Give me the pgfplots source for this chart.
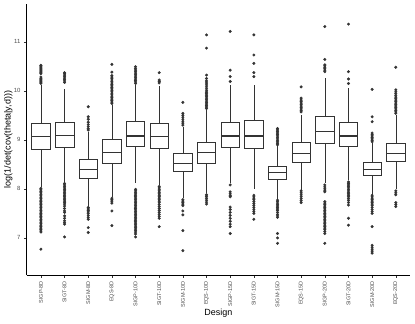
\documentclass[border=0pt]{standalone}
\usepackage{fontspec}
\setmainfont{Liberation Sans}
\usepackage{pgfplots}
\pgfplotsset{compat=1.18}
\usepgfplotslibrary{statistics}
\definecolor{g20}{RGB}{51,51,51}
\definecolor{g30}{RGB}{77,77,77}
\begin{document}
\begin{tikzpicture}
\begin{axis}[
  name=ax, scale only axis, width=383bp, height=271bp,
  xmin=-0.6, xmax=15.6, ymin=6.24, ymax=11.77,
  axis lines*=left, axis line style={black, line width=0.6pt},
  xtick={0,...,15},
  xticklabels={SIGP-8D,SIGT-8D,SIGM-8D,EQS-8D,SIGP-10D,SIGT-10D,SIGM-10D,EQS-10D,
    SIGP-15D,SIGT-15D,SIGM-15D,EQS-15D,SIGP-20D,SIGT-20D,SIGM-20D,EQS-20D},
  x tick label style={rotate=90, anchor=east, font=\fontsize{5.5}{6}\selectfont, text=g30},
  ytick={7,8,9,10,11},
  y tick label style={font=\fontsize{6}{7}\selectfont, text=g30},
  /pgf/number format/assume math mode=true,
  tick style={g20, line width=0.5pt}, tick align=outside, major tick length=2.75pt,
  xlabel={Design}, ylabel={log(1/det(cov(theta|y,d)))},
  label style={font=\fontsize{9}{10}\selectfont},
  xlabel style={at={(rel axis cs:0.5,0)}, anchor=center, yshift=-38bp},
  ylabel style={at={([xshift=-18.5bp]rel axis cs:0,0.5)}, anchor=center},
  boxplot/draw direction=y, boxplot/box extend=0.78, boxplot/whisker extend=0,
  boxplot/every median/.style={line width=1.2pt},
  box/.style={g20, line width=0.6pt, fill=white, solid},
  out/.style={only marks, mark=*, mark size=1.3pt, mark options={draw=g20, fill=g20}},
]
% boxes: lower whisker, Q1, median, Q3, upper whisker
\addplot[box, boxplot prepared={draw position=0, lower whisker=8.04, lower quartile=8.81, median=9.06, upper quartile=9.34, upper whisker=10.12}] coordinates {};
\addplot[box, boxplot prepared={draw position=1, lower whisker=8.15, lower quartile=8.85, median=9.09, upper quartile=9.36, upper whisker=10.03}] coordinates {};
\addplot[box, boxplot prepared={draw position=2, lower whisker=7.64, lower quartile=8.21, median=8.40, upper quartile=8.61, upper whisker=9.16}] coordinates {};
\addplot[box, boxplot prepared={draw position=3, lower whisker=7.84, lower quartile=8.53, median=8.745, upper quartile=9.01, upper whisker=9.72}] coordinates {};
\addplot[box, boxplot prepared={draw position=4, lower whisker=8.11, lower quartile=8.87, median=9.08, upper quartile=9.37, upper whisker=10.12}] coordinates {};
\addplot[box, boxplot prepared={draw position=5, lower whisker=8.08, lower quartile=8.83, median=9.07, upper quartile=9.34, upper whisker=10.10}] coordinates {};
\addplot[box, boxplot prepared={draw position=6, lower whisker=7.81, lower quartile=8.35, median=8.52, upper quartile=8.72, upper whisker=9.27}] coordinates {};
\addplot[box, boxplot prepared={draw position=7, lower whisker=7.91, lower quartile=8.53, median=8.745, upper quartile=8.96, upper whisker=9.61}] coordinates {};
\addplot[box, boxplot prepared={draw position=8, lower whisker=8.12, lower quartile=8.85, median=9.08, upper quartile=9.36, upper whisker=10.12}] coordinates {};
\addplot[box, boxplot prepared={draw position=9, lower whisker=7.99, lower quartile=8.83, median=9.08, upper quartile=9.40, upper whisker=10.12}] coordinates {};
\addplot[box, boxplot prepared={draw position=10, lower whisker=7.79, lower quartile=8.19, median=8.33, upper quartile=8.47, upper whisker=8.89}] coordinates {};
\addplot[box, boxplot prepared={draw position=11, lower whisker=7.98, lower quartile=8.54, median=8.72, upper quartile=8.94, upper whisker=9.51}] coordinates {};
\addplot[box, boxplot prepared={draw position=12, lower whisker=8.12, lower quartile=8.93, median=9.165, upper quartile=9.47, upper whisker=10.255}] coordinates {};
\addplot[box, boxplot prepared={draw position=13, lower whisker=8.19, lower quartile=8.87, median=9.08, upper quartile=9.36, upper whisker=10.05}] coordinates {};
\addplot[box, boxplot prepared={draw position=14, lower whisker=7.88, lower quartile=8.28, median=8.40, upper quartile=8.54, upper whisker=8.93}] coordinates {};
\addplot[box, boxplot prepared={draw position=15, lower whisker=7.99, lower quartile=8.56, median=8.72, upper quartile=8.93, upper whisker=9.51}] coordinates {};
% outliers
\addplot[out] coordinates {
 (0,10.15)(0,10.17)(0,10.19)(0,10.21)(0,10.23)(0,10.25)(0,10.28)(0,10.35)(0,10.37)(0,10.39)(0,10.41)(0,10.43)(0,10.45)(0,10.47)(0,10.49)(0,10.51)(0,10.52)
 (0,8.01)(0,7.98)(0,7.95)(0,7.92)(0,7.89)(0,7.86)(0,7.83)(0,7.80)(0,7.77)(0,7.74)(0,7.71)(0,7.68)(0,7.65)(0,7.62)(0,7.59)(0,7.56)(0,7.53)(0,7.50)(0,7.47)(0,7.44)(0,7.41)(0,7.38)(0,7.35)(0,7.32)(0,7.29)(0,7.26)(0,7.23)(0,7.20)(0,7.17)(0,7.14)(0,7.12)(0,6.77)
 (1,10.17)(1,10.20)(1,10.23)(1,10.26)(1,10.29)(1,10.32)(1,10.35)(1,10.37)
 (1,8.11)(1,8.08)(1,8.05)(1,8.02)(1,7.99)(1,7.96)(1,7.93)(1,7.90)(1,7.87)(1,7.84)(1,7.81)(1,7.78)(1,7.75)(1,7.72)(1,7.69)(1,7.65)(1,7.60)(1,7.55)(1,7.52)(1,7.45)(1,7.40)(1,7.35)(1,7.31)(1,7.28)(1,7.02)
 (2,9.20)(2,9.23)(2,9.27)(2,9.31)(2,9.36)(2,9.42)(2,9.47)(2,9.675)
 (2,7.62)(2,7.59)(2,7.56)(2,7.53)(2,7.50)(2,7.46)(2,7.42)(2,7.38)(2,7.21)(2,7.11)
 (3,9.74)(3,9.77)(3,9.80)(3,9.83)(3,9.86)(3,9.89)(3,9.92)(3,9.95)(3,9.98)(3,10.01)(3,10.04)(3,10.07)(3,10.10)(3,10.13)(3,10.16)(3,10.19)(3,10.22)(3,10.25)(3,10.28)(3,10.31)(3,10.38)(3,10.54)
 (3,7.81)(3,7.78)(3,7.75)(3,7.71)(3,7.55)(3,7.25)
 (4,10.15)(4,10.18)(4,10.21)(4,10.24)(4,10.27)(4,10.30)(4,10.33)(4,10.36)(4,10.39)(4,10.42)(4,10.45)(4,10.49)
 (4,7.99)(4,7.96)(4,7.93)(4,7.90)(4,7.87)(4,7.84)(4,7.81)(4,7.78)(4,7.75)(4,7.72)(4,7.69)(4,7.66)(4,7.63)(4,7.60)(4,7.57)(4,7.54)(4,7.51)(4,7.48)(4,7.45)(4,7.42)(4,7.39)(4,7.36)(4,7.33)(4,7.30)(4,7.27)(4,7.24)(4,7.21)(4,7.18)(4,7.15)(4,7.12)(4,7.08)(4,7.02)
 (5,10.16)(5,10.19)(5,10.22)(5,10.37)
 (5,8.05)(5,8.02)(5,7.99)(5,7.96)(5,7.93)(5,7.90)(5,7.87)(5,7.84)(5,7.81)(5,7.78)(5,7.75)(5,7.72)(5,7.68)(5,7.64)(5,7.60)(5,7.56)(5,7.52)(5,7.48)(5,7.44)(5,7.40)(5,7.23)
 (6,9.30)(6,9.34)(6,9.38)(6,9.42)(6,9.46)(6,9.50)(6,9.54)(6,9.765)
 (6,7.78)(6,7.75)(6,7.72)(6,7.69)(6,7.66)(6,7.55)(6,7.47)(6,7.15)(6,6.74)
 (7,9.64)(7,9.67)(7,9.70)(7,9.73)(7,9.76)(7,9.79)(7,9.82)(7,9.85)(7,9.88)(7,9.91)(7,9.94)(7,9.97)(7,10.00)(7,10.04)(7,10.08)(7,10.12)(7,10.16)(7,10.20)(7,10.25)(7,10.32)(7,10.87)(7,11.14)
 (7,7.88)(7,7.85)(7,7.81)(7,7.77)(7,7.73)(7,7.69)
 (8,10.19)(8,10.29)(8,10.42)(8,11.21)
 (8,8.08)(8,7.94)(8,7.90)(8,7.86)(8,7.84)(8,7.63)(8,7.58)(8,7.52)(8,7.46)(8,7.40)(8,7.34)(8,7.28)(8,7.23)(8,7.09)
 (9,10.29)(9,10.37)(9,10.56)(9,10.73)(9,11.14)
 (9,7.87)(9,7.84)(9,7.81)(9,7.78)(9,7.74)(9,7.70)(9,7.66)(9,7.62)(9,7.58)(9,7.54)(9,7.50)(9,7.38)
 (10,8.90)(10,8.93)(10,8.96)(10,8.99)(10,9.02)(10,9.05)(10,9.08)(10,9.11)(10,9.14)(10,9.17)(10,9.20)(10,9.23)
 (10,7.77)(10,7.74)(10,7.71)(10,7.68)(10,7.65)(10,7.62)(10,7.59)(10,7.56)(10,7.52)(10,7.48)(10,7.45)(10,7.42)(10,7.09)(10,7.00)(10,6.89)
 (11,9.57)(11,9.60)(11,9.63)(11,9.66)(11,9.69)(11,9.72)(11,9.75)(11,9.78)(11,9.81)(11,9.85)(11,10.08)
 (11,7.96)(11,7.92)(11,7.88)(11,7.84)(11,7.80)(11,7.76)(11,7.72)
 (12,10.39)(12,10.42)(12,10.45)(12,10.48)(12,10.51)(12,10.53)(12,10.64)(12,11.31)
 (12,8.08)(12,8.04)(12,8.00)(12,7.96)(12,7.94)(12,7.74)(12,7.71)(12,7.68)(12,7.65)(12,7.62)(12,7.59)(12,7.56)(12,7.53)(12,7.50)(12,7.47)(12,7.44)(12,7.41)(12,7.38)(12,7.35)(12,7.32)(12,7.29)(12,7.26)(12,7.23)(12,7.20)(12,7.17)(12,7.13)(12,7.09)(12,6.89)
 (13,10.15)(13,10.24)(13,10.39)(13,11.36)
 (13,8.14)(13,8.11)(13,8.08)(13,8.05)(13,8.02)(13,7.99)(13,7.96)(13,7.93)(13,7.90)(13,7.87)(13,7.84)(13,7.80)(13,7.76)(13,7.72)(13,7.67)(13,7.40)(13,7.26)
 (14,8.96)(14,8.99)(14,9.02)(14,9.05)(14,9.08)(14,9.11)(14,9.14)(14,9.37)(14,9.47)(14,10.03)
 (14,7.87)(14,7.84)(14,7.81)(14,7.78)(14,7.75)(14,7.72)(14,7.69)(14,7.66)(14,7.62)(14,7.58)(14,7.54)(14,7.50)(14,7.23)(14,6.85)(14,6.81)(14,6.77)(14,6.73)(14,6.69)
 (15,9.54)(15,9.57)(15,9.60)(15,9.63)(15,9.66)(15,9.69)(15,9.72)(15,9.75)(15,9.78)(15,9.81)(15,9.84)(15,9.87)(15,9.90)(15,9.94)(15,9.98)(15,10.02)(15,10.48)
 (15,7.96)(15,7.92)(15,7.88)(15,7.72)(15,7.68)(15,7.64)
};
\coordinate (bl) at (rel axis cs:0,0);
\coordinate (tr) at (rel axis cs:1,1);
\end{axis}
\pgfresetboundingbox
\path[use as bounding box] ([shift={(-26.7bp,-48bp)}]bl) rectangle ([shift={(5bp,4bp)}]tr);
\end{tikzpicture}
\end{document}
